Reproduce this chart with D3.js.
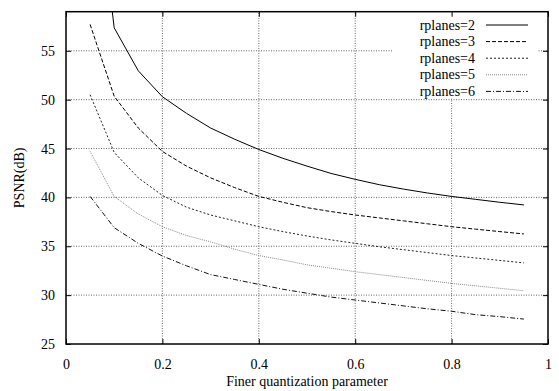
<!DOCTYPE html>
<html>
<head>
<meta charset="utf-8">
<script src="https://cdn.jsdelivr.net/npm/d3@7"></script>
<style>
  body { margin: 0; background: #fff; }
  text { font-family: "Liberation Serif", "DejaVu Serif", serif; }
</style>
</head>
<body>
<script>
// quantization parameter values (x)
var qValues = [0.05, 0.1, 0.15, 0.2, 0.25, 0.3, 0.35, 0.4, 0.45, 0.5,
	0.55, 0.6, 0.65, 0.7, 0.75, 0.8, 0.85, 0.9, 0.95];

// PSNR (dB) per rplanes setting
var psnr2 = [78, 57.35, 52.95, 50.3, 48.6, 47.1, 45.95, 44.9, 44.0, 43.2,
	42.45, 41.85, 41.3, 40.85, 40.45, 40.1, 39.8, 39.5, 39.23];
var psnr3 = [57.7, 50.35, 47.1, 44.7, 43.2, 42.0, 41.0, 40.1, 39.5, 38.95,
	38.55, 38.2, 37.9, 37.6, 37.3, 37.0, 36.75, 36.5, 36.26];
var psnr4 = [50.5, 44.6, 42.0, 40.2, 39.0, 38.2, 37.6, 37.0, 36.5, 36.05,
	35.65, 35.3, 34.95, 34.65, 34.35, 34.05, 33.8, 33.55, 33.3];
var psnr5 = [44.7, 40.1, 38.3, 37.0, 36.1, 35.45, 34.7, 34.05, 33.6, 33.1,
	32.75, 32.4, 32.1, 31.8, 31.5, 31.2, 30.95, 30.7, 30.45];
var psnr6 = [40.1, 36.9, 35.3, 34.0, 33.0, 32.1, 31.6, 31.1, 30.6, 30.2,
	29.8, 29.5, 29.2, 28.9, 28.6, 28.35, 28.0, 27.8, 27.55];

var seriesNames = ["rplanes=2", "rplanes=3", "rplanes=4", "rplanes=5", "rplanes=6"];
var xTicks = [0, 0.2, 0.4, 0.6, 0.8, 1];
var yTicks = [25, 30, 35, 40, 45, 50, 55];

var styles = [
	{ stroke: "#000", dash: null, width: 1 },
	{ stroke: "#000", dash: "4,2", width: 1 },
	{ stroke: "#222", dash: "2,2", width: 1 },
	{ stroke: "#8a8a8a", dash: "1,1", width: 1 },
	{ stroke: "#111", dash: "5,2,1,2", width: 1 }
];

var width = 559;
var height = 391;
var margin = { top: 11.7, right: 11, bottom: 47, left: 66 };

var svg = d3
	.select("body")
	.append("svg")
	.attr("width", width)
	.attr("height", height);

var x = d3.scaleLinear().domain([0, 1]).range([margin.left, width - margin.right]);
var y = d3.scaleLinear().domain([25, 59]).range([height - margin.bottom, margin.top]);

var allSeries = [psnr2, psnr3, psnr4, psnr5, psnr6].map(function (vals, i) {
	return {
		name: seriesNames[i],
		style: styles[i],
		points: qValues.map(function (q, j) { return [q, vals[j]]; })
	};
});

svg.append("clipPath")
	.attr("id", "plotclip")
	.append("rect")
	.attr("x", x(0))
	.attr("y", y(59))
	.attr("width", x(1) - x(0))
	.attr("height", y(25) - y(59));

// grid
var grid = svg.append("g").attr("class", "grid");
grid.selectAll("line.gx")
	.data(xTicks.slice(1, -1))
	.enter()
	.append("line")
	.attr("x1", function (d) { return x(d); })
	.attr("x2", function (d) { return x(d); })
	.attr("y1", y(25))
	.attr("y2", y(59))
	.attr("stroke", "#444")
	.attr("stroke-width", 0.8)
	.attr("stroke-dasharray", "1,1.5");
grid.selectAll("line.gy")
	.data(yTicks.slice(1))
	.enter()
	.append("line")
	.attr("x1", x(0))
	.attr("x2", x(1))
	.attr("y1", function (d) { return y(d); })
	.attr("y2", function (d) { return y(d); })
	.attr("stroke", "#444")
	.attr("stroke-width", 0.8)
	.attr("stroke-dasharray", "1,1.5");

// key background hides grid behind it
svg.append("rect")
	.attr("x", 392)
	.attr("y", y(59) + 1)
	.attr("width", 146)
	.attr("height", 86)
	.attr("fill", "#fff");

// curves
var line = d3.line()
	.x(function (d) { return x(d[0]); })
	.y(function (d) { return y(d[1]); });

svg.append("g")
	.attr("clip-path", "url(#plotclip)")
	.selectAll("path")
	.data(allSeries)
	.enter()
	.append("path")
	.attr("d", function (d) { return line(d.points); })
	.attr("fill", "none")
	.attr("stroke", function (d) { return d.style.stroke; })
	.attr("stroke-width", function (d) { return d.style.width; })
	.attr("stroke-dasharray", function (d) { return d.style.dash; });

// axes with inward ticks, mirrored
var bottomAxis = d3.axisBottom(x).tickValues(xTicks).tickSize(-5).tickPadding(15)
	.tickFormat(function (d) { return d === 0 || d === 1 ? d : d3.format(".1f")(d); });
var topAxis = d3.axisTop(x).tickValues(xTicks).tickSize(-5).tickFormat("");
var leftAxis = d3.axisLeft(y).tickValues(yTicks).tickSize(-5).tickPadding(11);
var rightAxis = d3.axisRight(y).tickValues(yTicks).tickSize(-5).tickFormat("");

function styleAxis(g) {
	g.attr("font-family", null).attr("font-size", null);
	g.select(".domain").remove();
	g.selectAll(".tick line").attr("stroke", "#000").attr("stroke-width", 1);
	g.selectAll(".tick text")
		.attr("fill", "#000")
		.style("font-size", "14px");
}

svg.append("g").attr("transform", "translate(0," + y(25) + ")").call(bottomAxis).call(styleAxis);
svg.append("g").attr("transform", "translate(0," + y(59) + ")").call(topAxis).call(styleAxis);
svg.append("g").attr("transform", "translate(" + x(0) + ",0)").call(leftAxis).call(styleAxis);
svg.append("g").attr("transform", "translate(" + x(1) + ",0)").call(rightAxis).call(styleAxis);

// border
svg.append("rect")
	.attr("x", x(0))
	.attr("y", y(59))
	.attr("width", x(1) - x(0))
	.attr("height", y(25) - y(59))
	.attr("fill", "none")
	.attr("stroke", "#000")
	.attr("stroke-width", 1.5);

// axis titles
svg.append("text")
	.attr("x", (x(0) + x(1)) / 2)
	.attr("y", 386)
	.attr("text-anchor", "middle")
	.style("font-size", "14px")
	.text("Finer quantization parameter");

svg.append("text")
	.attr("transform", "translate(24," + (y(25) + y(59)) / 2 + ") rotate(-90)")
	.attr("text-anchor", "middle")
	.style("font-size", "14px")
	.text("PSNR(dB)");

// key
var key = svg.append("g")
	.selectAll("g")
	.data(allSeries)
	.enter()
	.append("g")
	.attr("transform", function (d, i) { return "translate(0," + (25 + i * 16.6) + ")"; });

key.append("text")
	.attr("x", 475)
	.attr("y", 4.5)
	.attr("text-anchor", "end")
	.style("font-size", "14px")
	.text(function (d) { return d.name; });

key.append("line")
	.attr("x1", 486)
	.attr("x2", 528)
	.attr("y1", 0)
	.attr("y2", 0)
	.attr("stroke", function (d) { return d.style.stroke; })
	.attr("stroke-width", function (d) { return d.style.width; })
	.attr("stroke-dasharray", function (d) { return d.style.dash; });
</script>
</body>
</html>
